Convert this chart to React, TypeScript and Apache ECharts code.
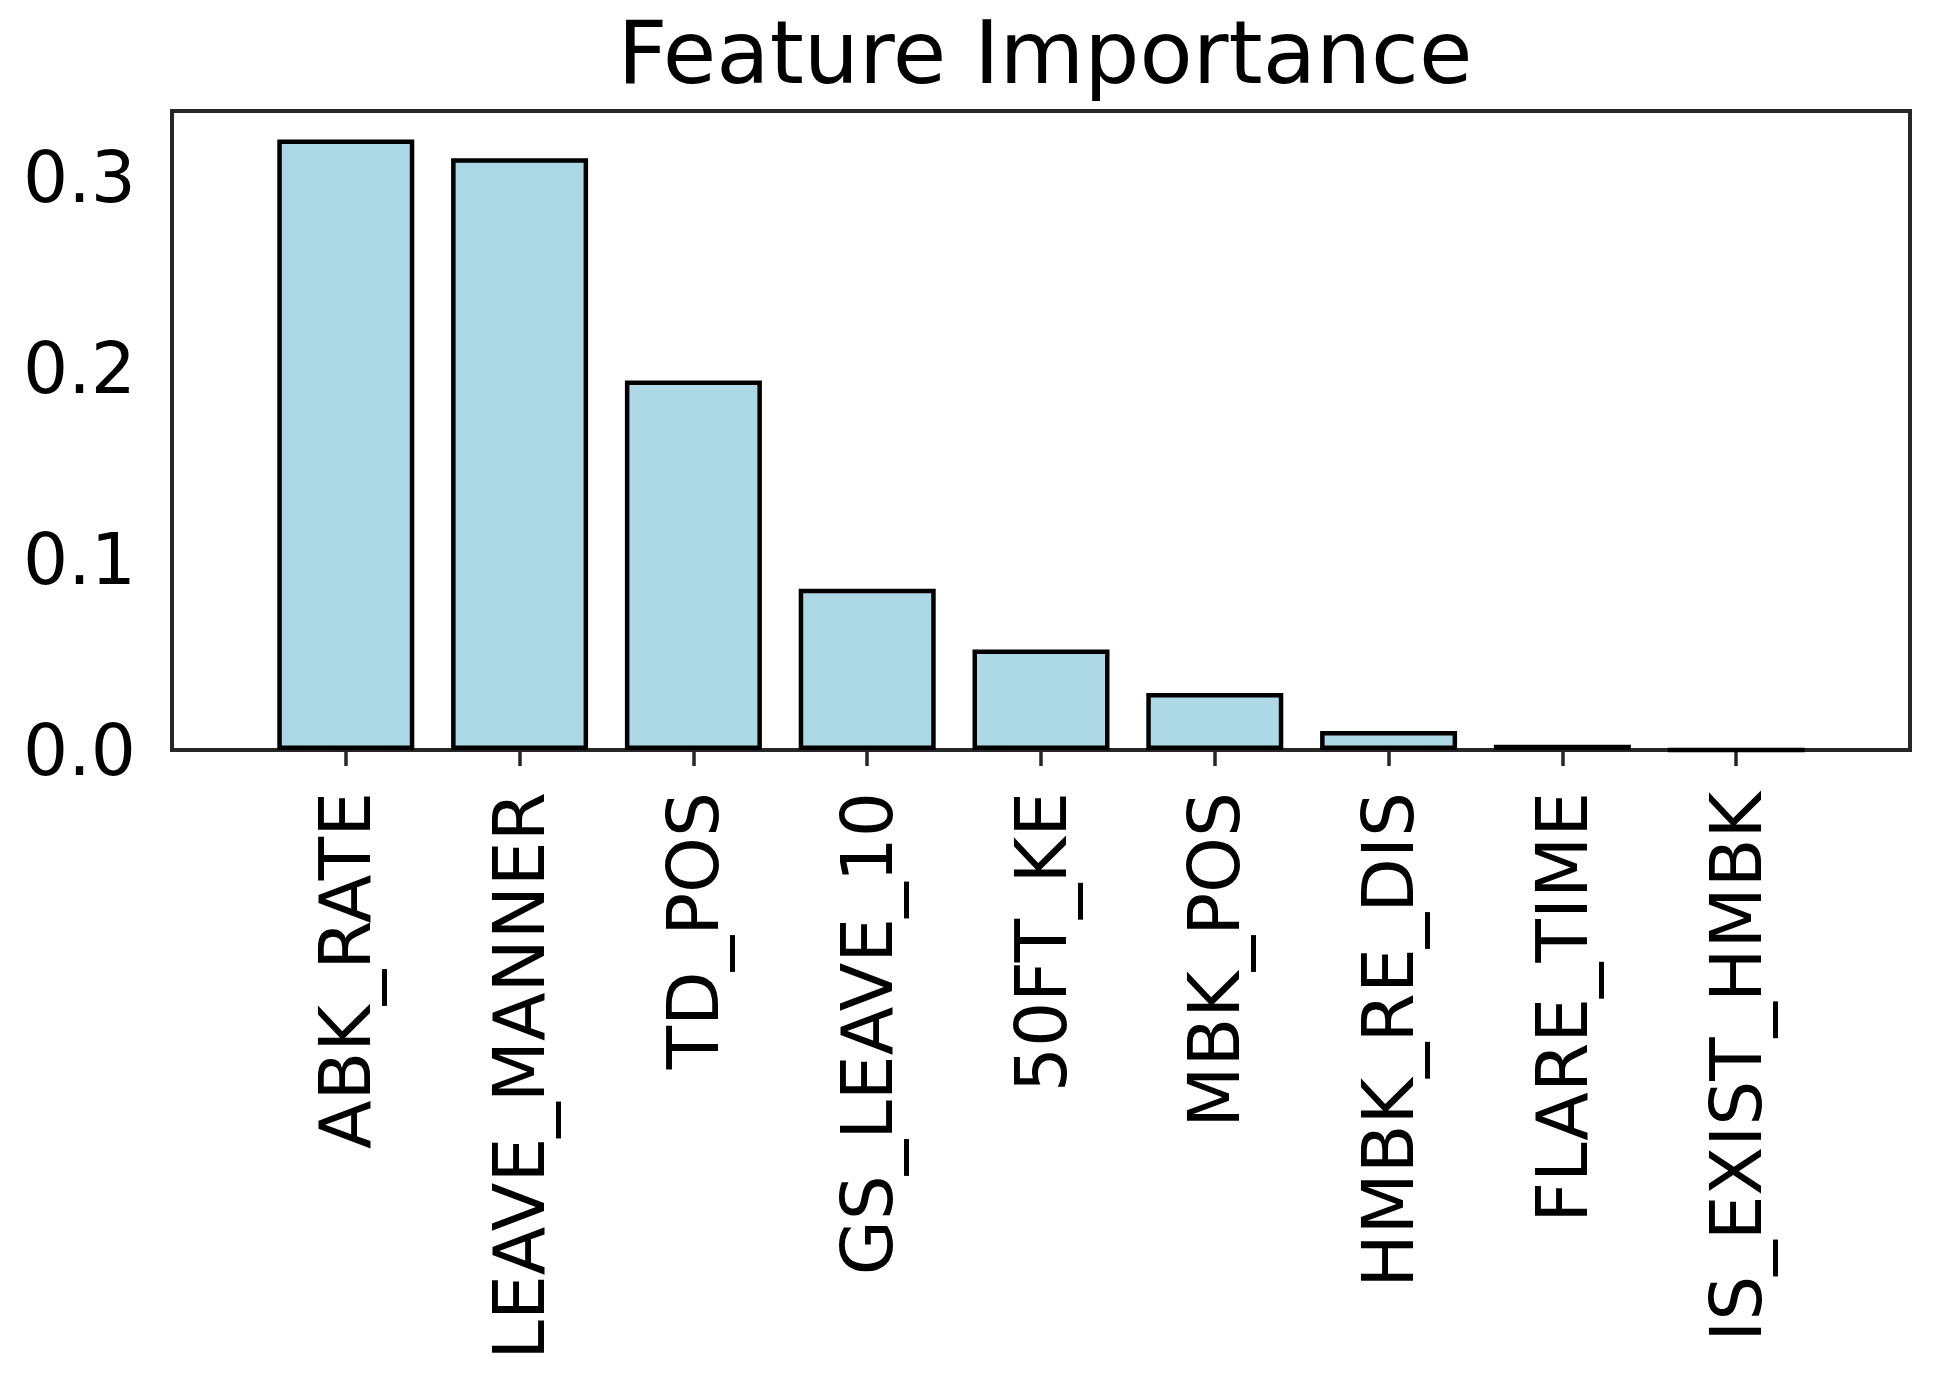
import React, { useEffect, useRef } from "react";
import * as echarts from "echarts";

const categories = [
  "ABK_RATE",
  "LEAVE_MANNER",
  "TD_POS",
  "GS_LEAVE_10",
  "50FT_KE",
  "MBK_POS",
  "HMBK_RE_DIS",
  "FLARE_TIME",
  "IS_EXIST_HMBK",
];
const importance = [0.3197, 0.3099, 0.1935, 0.0845, 0.0526, 0.0299, 0.0099, 0.0027, 0.0];
const yTicks = [0.0, 0.1, 0.2, 0.3];
const xPositions = categories.map((_, i) => i);

const FONT = "DejaVu Sans";

export default function App() {
  const ref = useRef<HTMLDivElement>(null);
  useEffect(() => {
    if (!ref.current) return;
    const chart = echarts.init(ref.current, undefined, { renderer: "svg" });
    chart.setOption({
      animation: false,
      backgroundColor: "#ffffff",
      title: {
        text: "Feature Importance",
        left: 1040,
        top: 4,
        textAlign: "center",
        textStyle: {
          fontFamily: FONT,
          fontSize: 87,
          fontWeight: "normal",
          color: "#000000",
        },
      },
      grid: {
        left: 172,
        top: 111,
        width: 1738,
        height: 639,
        show: true,
        borderColor: "#262626",
        borderWidth: 4,
        backgroundColor: "transparent",
        containLabel: false,
      },
      xAxis: {
        type: "value",
        min: -1,
        max: 9,
        splitLine: { show: false },
        axisLine: { show: false },
        axisTick: {
          show: true,
          length: 16,
          customValues: xPositions,
          lineStyle: { color: "#262626", width: 3.5 },
        },
        axisLabel: {
          show: true,
          customValues: xPositions,
          rotate: 90,
          margin: 42,
          fontFamily: FONT,
          fontSize: 71,
          color: "#000000",
          formatter: (v: number) => categories[Math.round(v)] ?? "",
        },
      },
      yAxis: {
        type: "value",
        min: 0,
        max: 0.3346,
        splitLine: { show: false },
        axisLine: { show: false },
        axisTick: {
          show: true,
          length: 16,
          customValues: yTicks,
          lineStyle: { color: "#262626", width: 3.5 },
        },
        axisLabel: {
          show: true,
          customValues: yTicks,
          margin: 36,
          fontFamily: FONT,
          fontSize: 71,
          color: "#000000",
          formatter: (v: number) => v.toFixed(1),
        },
      },
      series: [
        {
          type: "bar",
          data: xPositions.map((x, i) => [x, importance[i]]),
          barWidth: 137,
          itemStyle: {
            color: "#ADD8E6",
            borderColor: "#000000",
            borderWidth: 4.5,
          },
        },
      ],
    });
    return () => chart.dispose();
  }, []);
  return (
    <div
      ref={ref}
      style={{ position: "fixed", left: 0, top: 0, width: 1945, height: 1374 }}
    />
  );
}
